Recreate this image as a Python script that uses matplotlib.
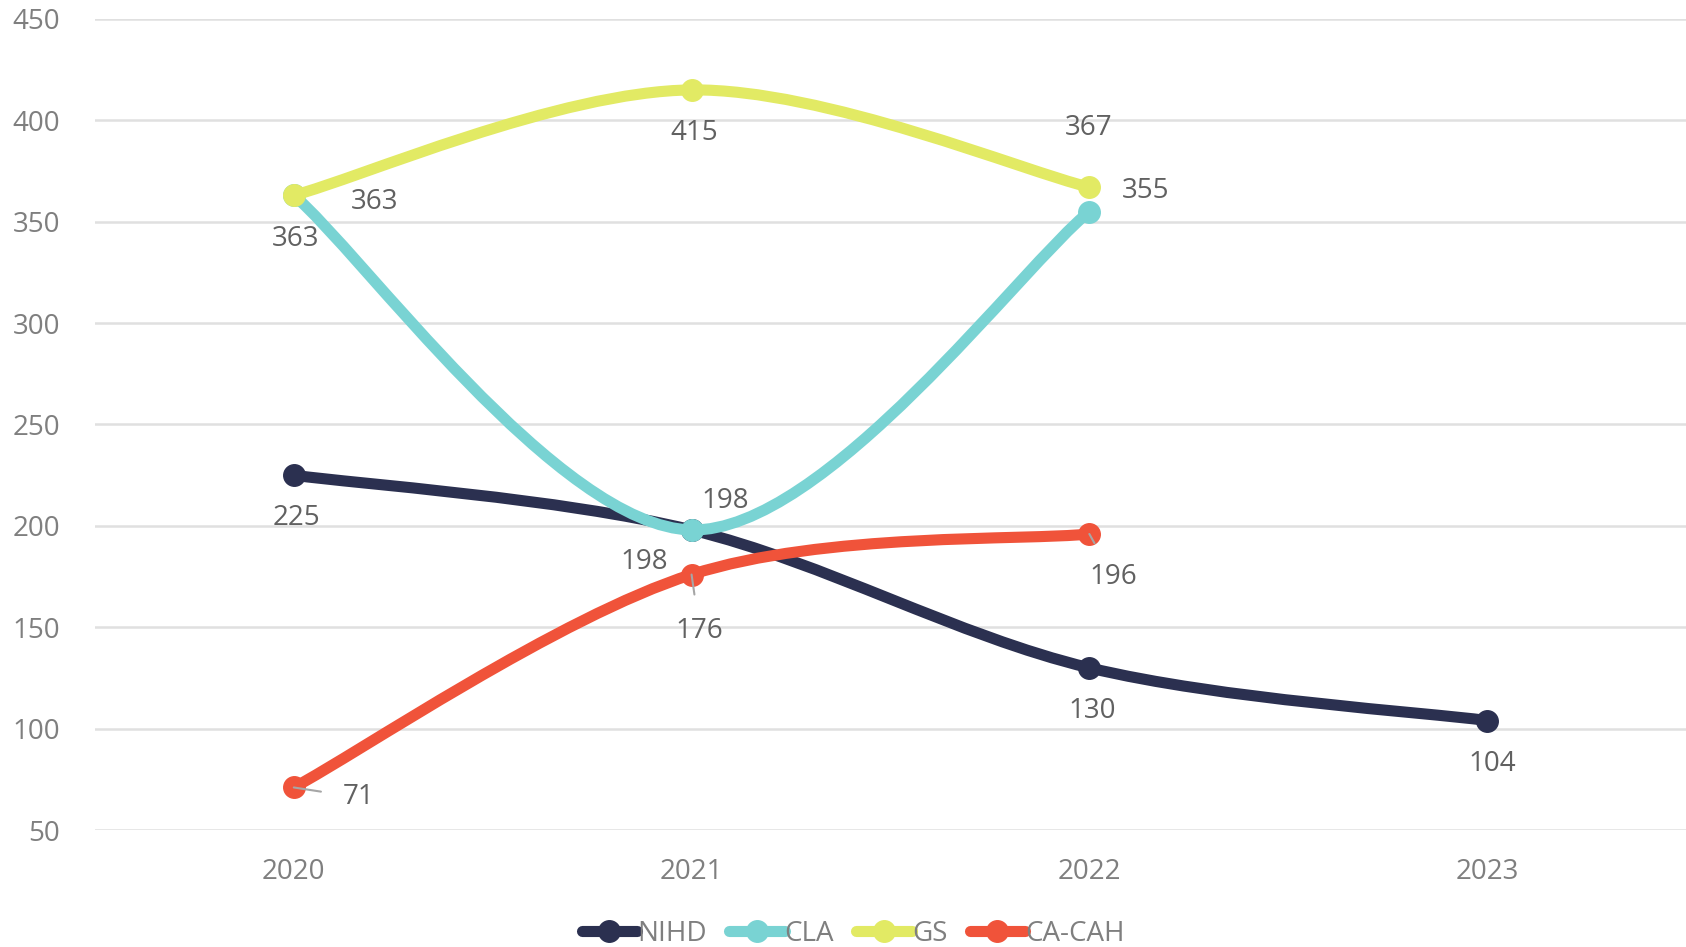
import numpy as np
import matplotlib.pyplot as plt
from matplotlib.path import Path
from matplotlib.patches import PathPatch
from matplotlib.lines import Line2D

plt.rcParams['font.family'] = ['Open Sans', 'DejaVu Sans']

years = ['2020', '2021', '2022', '2023']
nihd = [225, 198, 130, 104]
cla = [363, 198, 355]
gs = [363, 415, 367]
ca_cah = [71, 176, 196]

series_names = ['NIHD', 'CLA', 'GS', 'CA-CAH']
series_values = [nihd, cla, gs, ca_cah]
colors = ['#2b3050', '#79d3d3', '#e2ea64', '#f0533a']

# label offsets in pixels (dx, dy)
label_offsets = {
    'NIHD': [(3, -43), (-47, -32), (3, -43), (5, -43)],
    'CLA': [(2, -44), (34, 29), (56, 21)],
    'GS': [(81, -7), (3, -43), (-1, 59)],
    'CA-CAH': [(65, -10), (8, -56), (24, -43)],
}
leaders = {'CA-CAH': True}


def smooth_path(xs, ys):
    # Excel style smooth line: cubic bezier through the points
    pts = np.column_stack([xs, ys]).astype(float)
    verts = [pts[0]]
    codes = [Path.MOVETO]
    n = len(pts)
    for i in range(n - 1):
        p0 = pts[i - 1] if i > 0 else pts[i]
        p1 = pts[i]
        p2 = pts[i + 1]
        p3 = pts[i + 2] if i + 2 < n else pts[i + 1]
        c1 = p1 + (p2 - p0) / 6
        c2 = p2 - (p3 - p1) / 6
        verts += [c1, c2, p2]
        codes += [Path.CURVE4] * 3
    return Path(verts, codes)


fig = plt.figure(figsize=(16.86, 9.47), dpi=100)
ax = fig.add_axes([0.0563, 0.1235, 0.9437, 0.8565])

for k, (name, vals) in enumerate(zip(series_names, series_values)):
    xs = np.arange(len(vals))
    patch = PathPatch(smooth_path(xs, vals), facecolor='none',
                      edgecolor=colors[k], lw=8, zorder=3 + k,
                      capstyle='round', joinstyle='round')
    ax.add_patch(patch)
    ax.plot(xs, vals, linestyle='none', marker='o', markersize=15.5,
            color=colors[k], zorder=3 + k)
    for i, v in enumerate(vals):
        dx, dy = label_offsets[name][i]
        if leaders.get(name):
            ax.annotate(str(v), (xs[i], v), xytext=(dx, dy),
                        textcoords='offset pixels', ha='center', va='center',
                        fontsize=20, color='#616161', zorder=10,
                        arrowprops=dict(arrowstyle='-', color='#a6a6a6',
                                        lw=1.5, shrinkA=14, shrinkB=0))
        else:
            ax.annotate(str(v), (xs[i], v), xytext=(dx, dy),
                        textcoords='offset pixels', ha='center', va='center',
                        fontsize=20, color='#616161', zorder=10)

ax.set_xlim(-0.5, 3.5)
ax.set_ylim(50, 450)
ax.set_xticks(range(len(years)))
ax.set_xticklabels(years)
ax.set_yticks(range(50, 451, 50))
ax.tick_params(length=0, labelsize=20, labelcolor='#7f7f7f')
ax.tick_params(axis='x', pad=20)
ax.tick_params(axis='y', pad=25)
ax.grid(axis='y', color='#e0e0e0', lw=1.8)
ax.set_axisbelow(True)
for s in ax.spines.values():
    s.set_visible(False)

handles = [Line2D([], [], color=c, lw=8, marker='o', markersize=15.5,
                  solid_capstyle='round') for c in colors]
leg = fig.legend(handles, series_names, loc='center',
                 bbox_to_anchor=(0.506, 0.014), ncol=4, frameon=False,
                 fontsize=20, handlelength=2.0, handletextpad=0.0,
                 columnspacing=0.8, labelcolor='#7f7f7f')

fig.savefig('out.png', dpi=100)
